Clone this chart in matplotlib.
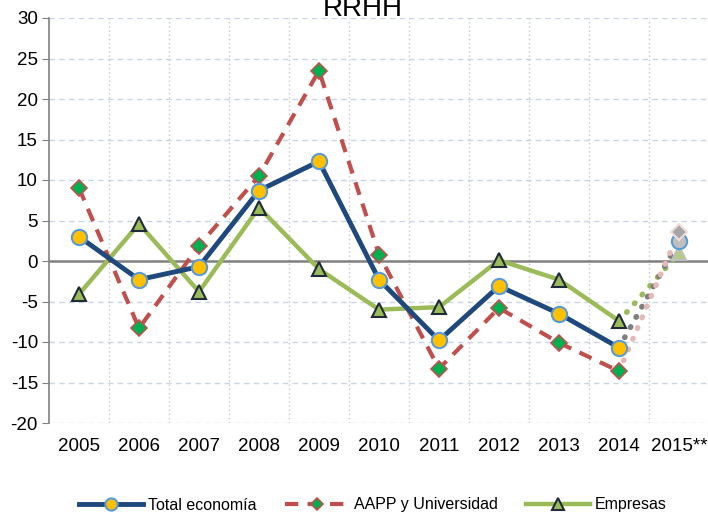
import matplotlib
matplotlib.use("Agg")
import matplotlib.pyplot as plt
from matplotlib import font_manager as fm

years = ["2005", "2006", "2007", "2008", "2009", "2010", "2011", "2012", "2013", "2014", "2015**"]
total = [3.0, -2.3, -0.7, 8.7, 12.3, -2.3, -9.8, -3.1, -6.5, -10.7]
aapp = [9.0, -8.3, 1.9, 10.5, 23.5, 0.8, -13.3, -5.8, -10.1, -13.6]
empresas = [-4.1, 4.6, -3.8, 6.6, -1.0, -6.0, -5.7, 0.1, -2.3, -7.4]
proj_total = 2.5
proj_aapp = 3.6
proj_empresas = 1.0
yticks = [-20, -15, -10, -5, 0, 5, 10, 15, 20, 25, 30]

names = {f.name for f in fm.fontManager.ttflist}
narrow = "Liberation Sans Narrow" if "Liberation Sans Narrow" in names else "Liberation Sans"
plt.rcParams['font.family'] = [narrow, 'DejaVu Sans']

fig = plt.figure(figsize=(7.08, 5.16), dpi=100)
W, H = 708, 516
ax = fig.add_axes([49 / W, 1 - 423 / H, 660 / W, 405 / H])

x = list(range(len(years)))
n = len(total)
xs = x[:n]

# grids
for t in yticks:
    if t != 0:
        ax.axhline(t, color="#c9d6ea", lw=1.0, ls=(0, (4, 3)), zorder=0)
for b in range(len(years)):
    ax.axvline(b + 0.5, color="#c8c8c8", lw=1.0, ls=(0, (1, 2)), zorder=0)
ax.axhline(0, color="#808080", lw=1.8, zorder=1)

# projection dotted links
dots = (0, (0.1, 2.0))
ax.plot([xs[-1], x[-1]], [empresas[-1], proj_empresas], color="#9bbb59", lw=4, ls=dots,
        dash_capstyle="round", zorder=2)
ax.plot([xs[-1], x[-1]], [total[-1], proj_total], color="#7f7f7f", lw=4, ls=dots,
        dash_capstyle="round", zorder=2)
ax.plot([xs[-1], x[-1]], [aapp[-1], proj_aapp], color="#e6b8b7", lw=4, ls=dots,
        dash_capstyle="round", zorder=2)

ax.plot(xs, empresas, color="#9bbb59", lw=3.2, marker="^", ms=10, mfc="#9bbb59",
        mec="#1f2a3a", mew=1.5, zorder=3, label="Empresas")
ax.plot(xs, aapp, color="#c0504d", lw=3.0, ls=(0, (3.2, 2.2)), marker="D", ms=8, mfc="#00b050",
        mec="#c0504d", mew=1.2, zorder=4, label="AAPP y Universidad")
ax.plot(xs, total, color="#1f497d", lw=3.5, marker="o", ms=11, mfc="#ffc000",
        mec="#5b9bd5", mew=1.5, zorder=5, label="Total economía")

# projected markers
ax.plot([x[-1]], [proj_empresas], marker="^", ms=10, mfc="#b5cc85", mec="#bfbfbf", mew=1.5, zorder=6)
ax.plot([x[-1]], [proj_total], marker="o", ms=11, mfc="#bfbfbf", mec="#5b9bd5", mew=1.5, zorder=6)
ax.plot([x[-1]], [proj_aapp], marker="D", ms=8, mfc="#a6a6a6", mec="#f2dcdb", mew=1.5, zorder=7)

ax.set_xlim(-0.5, len(years) - 0.5)
ax.set_ylim(-20, 30)
ax.set_yticks(yticks)
ax.set_yticklabels([str(t) for t in yticks], fontsize=13.5)
ax.set_xticks(x)
ax.set_xticklabels(years, fontsize=13.5)
ax.tick_params(axis="x", length=0, pad=11)
ax.tick_params(axis="y", length=5, color="#808080", pad=3)
for s in ["top", "right", "bottom"]:
    ax.spines[s].set_visible(False)
ax.spines["left"].set_color("#808080")
ax.spines["left"].set_linewidth(1.2)

fig.text(363 / W, 1 - 9 / H, "RRHH", ha="center", va="center", fontsize=20, family="Liberation Sans")

h, l = ax.get_legend_handles_labels()
order = [2, 1, 0]
fig.legend([h[i] for i in order], [l[i] for i in order], loc="center", bbox_to_anchor=(373 / W, 1 - 505 / H),
           ncol=3, frameon=False, fontsize=11.5, handlelength=4.0, columnspacing=1.8, handletextpad=0.3,
           markerscale=0.8)

fig.savefig("out.png", dpi=100)
